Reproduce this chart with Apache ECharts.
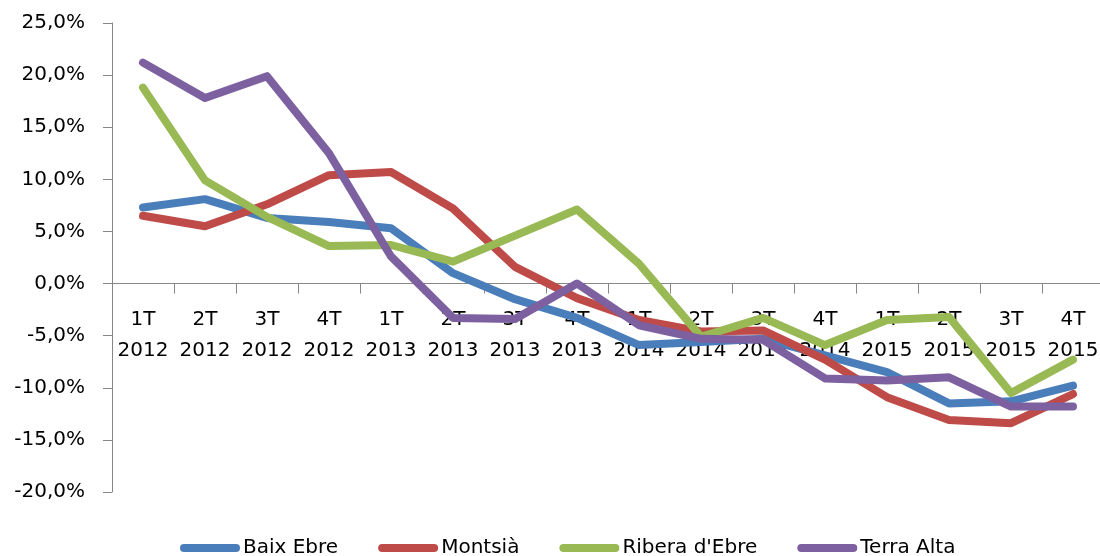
<!DOCTYPE html>
<html>
<head>
<meta charset="utf-8">
<script src="https://cdn.jsdelivr.net/npm/echarts@6/dist/echarts.min.js"></script>
<style>
  html, body { margin: 0; padding: 0; background: #fff; }
  #line-chart { width: 1100px; height: 556px; }
</style>
</head>
<body>
<div id="line-chart"></div>
<script>
const QUARTERS = [
  "1T\n2012", "2T\n2012", "3T\n2012", "4T\n2012",
  "1T\n2013", "2T\n2013", "3T\n2013", "4T\n2013",
  "1T\n2014", "2T\n2014", "3T\n2014", "4T\n2014",
  "1T\n2015", "2T\n2015", "3T\n2015", "4T\n2015"
];
const BAIX_EBRE = [7.3, 8.1, 6.3, 5.9, 5.3, 1.0, -1.5, -3.3, -5.9, -5.6, -5.3, -6.9, -8.5, -11.5, -11.3, -9.8];
const MONTSIA = [6.5, 5.5, 7.6, 10.4, 10.7, 7.2, 1.6, -1.4, -3.5, -4.6, -4.5, -7.3, -10.9, -13.1, -13.4, -10.6];
const RIBERA = [18.8, 9.9, 6.4, 3.6, 3.7, 2.1, 4.6, 7.1, 1.9, -5.1, -3.3, -5.9, -3.5, -3.2, -10.5, -7.3];
const TERRA_ALTA = [21.2, 17.8, 19.9, 12.5, 2.6, -3.3, -3.4, 0.0, -4.0, -5.3, -5.4, -9.1, -9.3, -9.0, -11.8, -11.8];

const SERIES_NAMES = ["Baix Ebre", "Montsià", "Ribera d'Ebre", "Terra Alta"];
const SERIES_DATA = [BAIX_EBRE, MONTSIA, RIBERA, TERRA_ALTA];
const COLORS = ["#4a7ebb", "#be4b48", "#98b954", "#7d60a0"];

const Y_MIN = -20;
const Y_MAX = 25;
const FONT = "DejaVu Sans";
const GRID_TOP = 23;
const GRID_BOTTOM = 64;
const CHART_H = 556;

// the category axis sits on the 0% line; onZero is ignored here, so shift it up by hand
const plotH = CHART_H - GRID_TOP - GRID_BOTTOM;
const zeroOffset = -plotH * (0 - Y_MIN) / (Y_MAX - Y_MIN);

const lineChart = echarts.init(document.getElementById("line-chart"));

const series = SERIES_NAMES.map((name, i) => ({
  name: name,
  type: "line",
  data: SERIES_DATA[i],
  symbol: "none",
  color: COLORS[i],
  lineStyle: { width: 8, color: COLORS[i], join: "round", cap: "round" }
}));

lineChart.setOption({
  animation: false,
  textStyle: { fontFamily: FONT },
  legend: {
    data: SERIES_NAMES,
    left: 175,
    top: 533,
    itemGap: 40,
    itemWidth: 60,
    itemHeight: 8,
    icon: "path://M4,0 L56,0 A4,4 0 0 1 56,8 L4,8 A4,4 0 0 1 4,0 Z",
    textStyle: { fontFamily: FONT, fontSize: 20, color: "#000", padding: [0, 0, 0, -2] }
  },
  grid: {
    left: 112,
    top: GRID_TOP,
    width: 992,
    bottom: GRID_BOTTOM,
    containLabel: false,
    outerBoundsMode: "none"
  },
  xAxis: {
    type: "category",
    data: QUARTERS,
    boundaryGap: true,
    position: "bottom",
    offset: zeroOffset,
    axisLine: { onZero: false, lineStyle: { color: "#868686", width: 1 } },
    axisTick: { show: true, length: 10, lineStyle: { color: "#868686" } },
    axisLabel: {
      interval: 0,
      margin: 21,
      fontFamily: FONT,
      fontSize: 20,
      lineHeight: 31,
      color: "#000"
    },
    splitLine: { show: false }
  },
  yAxis: {
    type: "value",
    min: Y_MIN,
    max: Y_MAX,
    interval: 5,
    axisLine: { show: true, onZero: false, lineStyle: { color: "#868686", width: 1 } },
    axisTick: { show: true, length: 9, lineStyle: { color: "#868686" } },
    axisLabel: {
      margin: 27,
      fontFamily: FONT,
      fontSize: 20,
      color: "#000",
      formatter: v => v.toFixed(1).replace(".", ",") + "%"
    },
    splitLine: { show: false }
  },
  series: series
});
</script>
</body>
</html>
